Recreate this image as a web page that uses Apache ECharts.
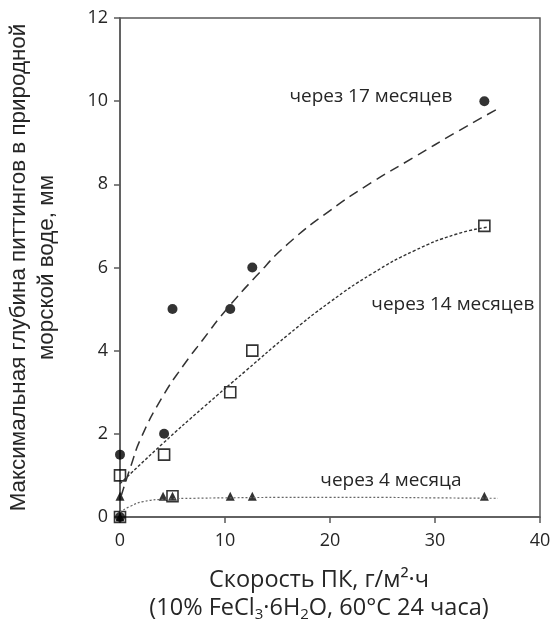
<!DOCTYPE html>
<html>
<head>
<meta charset="utf-8">
<title>Глубина питтингов</title>
<script src="https://cdn.jsdelivr.net/npm/echarts@6/dist/echarts.min.js"></script>
<style>
  html, body { margin: 0; padding: 0; background: #fff; }
  #chart { width: 553px; height: 626px; }
</style>
</head>
<body>
<div id="chart"></div>
<script>
// измеренные точки
const x17 = [0, 0, 4.2, 5, 10.5, 12.6, 34.7];
const y17 = [0, 1.5, 2, 5, 5, 6, 10];
const x14 = [0, 0, 4.2, 5, 10.5, 12.6, 34.7];
const y14 = [0, 1, 1.5, 0.5, 3, 4, 7];
const x4 = [0, 0, 4.1, 5, 10.5, 12.6, 34.7];
const y4 = [0, 0.5, 0.5, 0.5, 0.5, 0.5, 0.5];

// линии тренда
const trend17x = [0.1, 1, 2, 4, 6, 8, 10, 13, 16, 20, 24, 28, 32, 36];
const trend17y = [0.5, 1.2, 1.9, 2.87, 3.63, 4.3, 4.95, 5.8, 6.57, 7.37, 8.05, 8.65, 9.25, 9.82];
const trend14x = [0, 4, 8, 12, 16, 20, 24, 28, 32, 35];
const trend14y = [0.8, 1.75, 2.65, 3.52, 4.38, 5.17, 5.85, 6.4, 6.8, 6.97];
const trend4x = [0, 1, 2.2, 4.4, 7, 10, 15, 20, 25, 30, 36];
const trend4y = [0.12, 0.26, 0.37, 0.43, 0.45, 0.46, 0.47, 0.47, 0.47, 0.46, 0.45];

const xTicks = [0, 10, 20, 30, 40];
const yTicks = [0, 2, 4, 6, 8, 10, 12];

const pairs = (xs, ys) => xs.map((x, i) => [x, ys[i]]);

const chart = echarts.init(document.getElementById('chart'));
const txt = '#262626';
const axisCol = '#595959';

chart.setOption({
  animation: false,
  grid: { left: 120, right: 13, top: 18, bottom: 109, show: true, borderColor: axisCol, borderWidth: 1.5,
          containLabel: false, outerBoundsMode: 'none' },
  xAxis: {
    type: 'value', min: xTicks[0], max: xTicks[xTicks.length - 1], interval: 10,
    splitLine: { show: false },
    axisLine: { lineStyle: { color: axisCol, width: 1.5 } },
    axisTick: { inside: false, length: 6, lineStyle: { color: axisCol, width: 1.5 } },
    axisLabel: { color: txt, fontFamily: 'Open Sans', fontSize: 18, margin: 15 },
    name: 'Скорость ПК, г/м²·ч\n(10% FeCl{sub|3}·6H{sub|2}O, 60°C 24 часа)',
    nameLocation: 'middle', nameGap: 49,
    nameTextStyle: {
      color: txt, fontFamily: 'Open Sans', fontSize: 23.5, lineHeight: 28, padding: [0, 22, 0, 0],
      rich: { sub: { fontFamily: 'Open Sans', fontSize: 15, color: txt, verticalAlign: 'bottom' } }
    }
  },
  yAxis: {
    type: 'value', min: yTicks[0], max: yTicks[yTicks.length - 1], interval: 2,
    splitLine: { show: false },
    axisLine: { lineStyle: { color: axisCol, width: 1.5 } },
    axisTick: { inside: false, length: 6, lineStyle: { color: axisCol, width: 1.5 } },
    axisLabel: { color: txt, fontFamily: 'Open Sans', fontSize: 18, margin: 12 },
    name: 'Максимальная глубина питтингов в природной\nморской воде, мм',
    nameLocation: 'middle', nameRotate: 90, nameGap: 59,
    nameTextStyle: { color: txt, fontFamily: 'Liberation Sans', fontSize: 22.4, lineHeight: 28 }
  },
  series: [
    { type: 'line', data: pairs(trend17x, trend17y), smooth: 0.5, showSymbol: false, silent: true,
      lineStyle: { color: '#333', width: 1.5, type: [10, 6] } },
    { type: 'line', data: pairs(trend14x, trend14y), smooth: 0.5, showSymbol: false, silent: true,
      lineStyle: { color: '#333', width: 1.4, type: [3, 2] } },
    { type: 'line', data: pairs(trend4x, trend4y), smooth: 0.5, showSymbol: false, silent: true,
      lineStyle: { color: '#666', width: 1.2, type: [2, 2] } },
    { type: 'scatter', data: pairs(x17, y17), symbol: 'circle', symbolSize: 10,
      itemStyle: { color: '#000' } },
    { type: 'scatter', data: pairs(x4, y4), symbol: 'triangle', symbolSize: 9,
      itemStyle: { color: '#000' } },
    { type: 'scatter', data: pairs(x14, y14), symbol: 'rect', symbolSize: 11,
      itemStyle: { color: 'rgba(255,255,255,0)', borderColor: '#000', borderWidth: 1.6 } }
  ]
});

// подписи кривых
const notes = [
  { text: 'через 17 месяцев', at: [23.9, 10.1] },
  { text: 'через 14 месяцев', at: [31.7, 5.1] },
  { text: 'через 4 месяца', at: [25.8, 0.88] }
];
chart.setOption({
  graphic: notes.map(n => {
    const p = chart.convertToPixel({ gridIndex: 0 }, n.at);
    return {
      type: 'text', x: p[0], y: p[1],
      style: { text: n.text, fill: txt, font: '19px "Open Sans"', align: 'center', verticalAlign: 'middle' }
    };
  })
});
</script>
</body>
</html>
